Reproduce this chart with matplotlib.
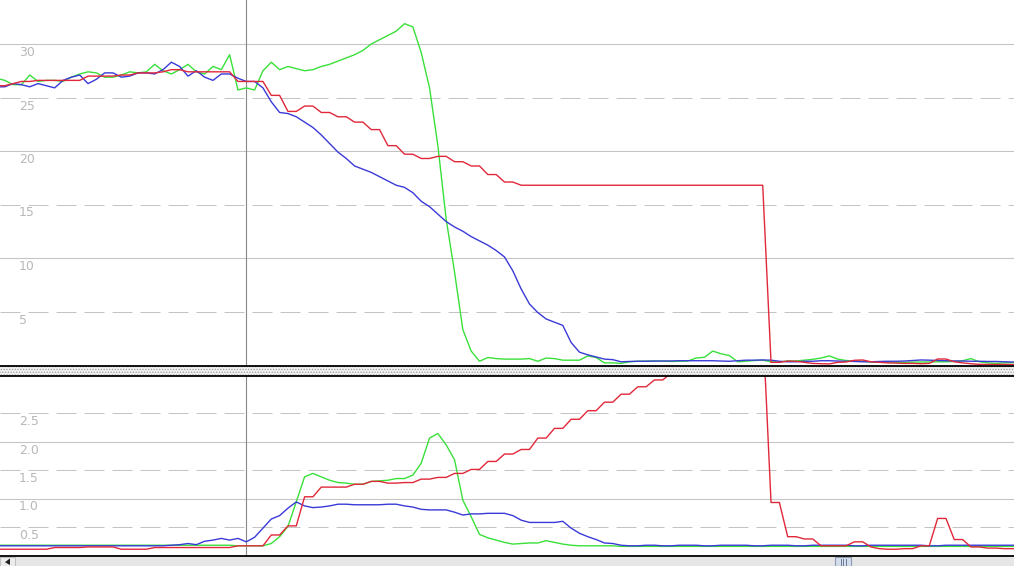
import numpy as np
import matplotlib
matplotlib.use("Agg")
import matplotlib.pyplot as plt
from matplotlib.patches import Rectangle, Polygon

# sample index of every point (one sample every ~8.3 px in the reference)
samples = np.arange(124)
marker_sample = 30

# top panel
red_top = [
    26.1, 26.1, 26.3, 26.5, 26.5, 26.6, 26.6, 26.6, 26.6, 26.6,
    26.6, 27.0, 27.0, 27.0, 27.0, 27.1, 27.1, 27.3, 27.3, 27.3,
    27.4, 27.6, 27.6, 27.4, 27.4, 27.4, 27.4, 27.4, 27.4, 26.5,
    26.5, 26.5, 26.5, 25.2, 25.2, 23.7, 23.7, 24.2, 24.2, 23.6,
    23.6, 23.2, 23.2, 22.7, 22.7, 22.0, 22.0, 20.5, 20.5, 19.7,
    19.7, 19.3, 19.3, 19.5, 19.5, 19.0, 19.0, 18.6, 18.6, 17.8,
    17.8, 17.1, 17.1, 16.8, 16.8, 16.8, 16.8, 16.8, 16.8, 16.8,
    16.8, 16.8, 16.8, 16.8, 16.8, 16.8, 16.8, 16.8, 16.8, 16.8,
    16.8, 16.8, 16.8, 16.8, 16.8, 16.8, 16.8, 16.8, 16.8, 16.8,
    16.8, 16.8, 16.8, 0.25, 0.25, 0.37, 0.35, 0.25, 0.15, 0.12,
    0.10, 0.25, 0.28, 0.44, 0.47, 0.30, 0.25, 0.20, 0.18, 0.15,
    0.15, 0.12, 0.15, 0.56, 0.56, 0.30, 0.20, 0.12, 0.06, 0.05,
    0.05, 0.05, 0.04, 0.04,
]
blue_top = [
    26.0, 26.0, 26.3, 26.2, 26.0, 26.3, 26.1, 25.9, 26.6, 26.9,
    27.1, 26.3, 26.7, 27.3, 27.3, 26.9, 27.0, 27.3, 27.3, 27.2,
    27.6, 28.3, 27.9, 27.0, 27.5, 26.9, 26.6, 27.2, 27.2, 26.8,
    26.5, 26.5, 25.9, 24.6, 23.6, 23.5, 23.2, 22.7, 22.2, 21.5,
    20.7, 19.9, 19.3, 18.6, 18.3, 18.0, 17.6, 17.2, 16.8, 16.6,
    16.1, 15.3, 14.8, 14.1, 13.4, 12.9, 12.5, 12.0, 11.6, 11.2,
    10.7, 10.1, 8.8, 7.1, 5.7, 4.9, 4.3, 4.0, 3.7, 2.1,
    1.2, 0.95, 0.75, 0.55, 0.50, 0.30, 0.33, 0.35, 0.35, 0.37,
    0.37, 0.38, 0.40, 0.40, 0.40, 0.40, 0.40, 0.37, 0.35, 0.40,
    0.45, 0.45, 0.47, 0.45, 0.35, 0.30, 0.30, 0.35, 0.35, 0.40,
    0.40, 0.37, 0.35, 0.33, 0.30, 0.30, 0.33, 0.35, 0.35, 0.37,
    0.42, 0.47, 0.45, 0.42, 0.40, 0.38, 0.37, 0.35, 0.35, 0.33,
    0.33, 0.30, 0.28, 0.28,
]
green_top = [
    26.8, 26.6, 26.2, 26.2, 27.1, 26.5, 26.6, 26.6, 26.5, 26.9,
    27.2, 27.4, 27.3, 26.9, 26.9, 27.1, 27.4, 27.3, 27.4, 28.1,
    27.5, 27.2, 27.6, 28.1, 27.4, 27.2, 27.9, 27.6, 29.0, 25.7,
    25.9, 25.7, 27.5, 28.3, 27.6, 27.9, 27.7, 27.5, 27.6, 27.9,
    28.1, 28.4, 28.7, 29.0, 29.4, 30.0, 30.4, 30.8, 31.2, 31.9,
    31.6, 29.2, 25.9, 20.5, 13.6, 8.7, 3.3, 1.3, 0.35, 0.70,
    0.60, 0.55, 0.55, 0.55, 0.60, 0.35, 0.65, 0.60, 0.45, 0.45,
    0.45, 0.85, 0.70, 0.20, 0.20, 0.15, 0.30, 0.35, 0.37, 0.37,
    0.37, 0.33, 0.35, 0.37, 0.65, 0.72, 1.30, 1.05, 0.88, 0.30,
    0.35, 0.42, 0.45, 0.30, 0.28, 0.38, 0.38, 0.45, 0.53, 0.65,
    0.85, 0.55, 0.42, 0.37, 0.35, 0.28, 0.27, 0.25, 0.25, 0.25,
    0.27, 0.28, 0.28, 0.30, 0.30, 0.33, 0.40, 0.60, 0.30, 0.20,
    0.15, 0.20, 0.22, 0.22,
]

# bottom panel
red_bot = [
    0.11, 0.11, 0.11, 0.11, 0.11, 0.11, 0.11, 0.14, 0.14, 0.14,
    0.14, 0.15, 0.15, 0.15, 0.15, 0.11, 0.11, 0.11, 0.11, 0.14,
    0.14, 0.14, 0.14, 0.14, 0.14, 0.14, 0.14, 0.14, 0.14, 0.17,
    0.17, 0.17, 0.17, 0.36, 0.36, 0.52, 0.52, 1.03, 1.03, 1.20,
    1.20, 1.20, 1.20, 1.25, 1.25, 1.30, 1.30, 1.27, 1.27, 1.28,
    1.28, 1.34, 1.34, 1.37, 1.37, 1.44, 1.44, 1.51, 1.51, 1.65,
    1.65, 1.78, 1.78, 1.86, 1.86, 2.06, 2.06, 2.23, 2.23, 2.39,
    2.39, 2.54, 2.54, 2.69, 2.69, 2.83, 2.83, 2.96, 2.96, 3.08,
    3.08, 3.20, 3.20, 3.35, 3.35, 3.50, 3.50, 3.70, 3.70, 3.90,
    3.90, 4.10, 4.10, 0.93, 0.93, 0.33, 0.33, 0.29, 0.29, 0.17,
    0.17, 0.17, 0.17, 0.24, 0.24, 0.15, 0.12, 0.11, 0.11, 0.12,
    0.12, 0.17, 0.17, 0.65, 0.65, 0.28, 0.28, 0.15, 0.15, 0.13,
    0.13, 0.12, 0.12, 0.12,
]
blue_bot = [
    0.17, 0.17, 0.17, 0.17, 0.17, 0.17, 0.17, 0.17, 0.17, 0.17,
    0.17, 0.17, 0.17, 0.17, 0.17, 0.17, 0.17, 0.17, 0.17, 0.17,
    0.17, 0.18, 0.19, 0.21, 0.19, 0.25, 0.27, 0.30, 0.27, 0.30,
    0.24, 0.32, 0.48, 0.64, 0.70, 0.83, 0.94, 0.87, 0.84, 0.85,
    0.87, 0.90, 0.90, 0.89, 0.89, 0.89, 0.89, 0.90, 0.90, 0.87,
    0.85, 0.81, 0.80, 0.80, 0.80, 0.76, 0.71, 0.73, 0.73, 0.74,
    0.74, 0.74, 0.70, 0.62, 0.58, 0.58, 0.58, 0.58, 0.60, 0.48,
    0.39, 0.33, 0.28, 0.22, 0.21, 0.18, 0.17, 0.17, 0.18, 0.18,
    0.17, 0.17, 0.18, 0.18, 0.18, 0.17, 0.17, 0.18, 0.18, 0.18,
    0.18, 0.17, 0.17, 0.18, 0.18, 0.18, 0.17, 0.17, 0.18, 0.18,
    0.18, 0.18, 0.18, 0.17, 0.17, 0.18, 0.18, 0.18, 0.18, 0.18,
    0.18, 0.18, 0.17, 0.17, 0.18, 0.18, 0.18, 0.18, 0.18, 0.18,
    0.18, 0.18, 0.18, 0.18,
]
green_bot = [
    0.18, 0.18, 0.18, 0.18, 0.18, 0.18, 0.18, 0.18, 0.18, 0.18,
    0.18, 0.18, 0.18, 0.18, 0.18, 0.18, 0.18, 0.18, 0.18, 0.18,
    0.18, 0.18, 0.18, 0.18, 0.18, 0.18, 0.18, 0.18, 0.18, 0.17,
    0.17, 0.17, 0.17, 0.21, 0.33, 0.51, 0.94, 1.38, 1.44, 1.38,
    1.32, 1.28, 1.27, 1.25, 1.25, 1.30, 1.31, 1.32, 1.35, 1.35,
    1.41, 1.62, 2.06, 2.14, 1.94, 1.68, 0.97, 0.68, 0.37, 0.31,
    0.27, 0.23, 0.20, 0.21, 0.22, 0.22, 0.26, 0.23, 0.20, 0.18,
    0.17, 0.17, 0.17, 0.17, 0.17, 0.16, 0.16, 0.16, 0.16, 0.16,
    0.16, 0.16, 0.16, 0.16, 0.16, 0.16, 0.16, 0.16, 0.16, 0.16,
    0.16, 0.16, 0.16, 0.16, 0.16, 0.16, 0.16, 0.16, 0.16, 0.16,
    0.16, 0.16, 0.16, 0.16, 0.16, 0.16, 0.16, 0.16, 0.16, 0.16,
    0.16, 0.16, 0.16, 0.16, 0.16, 0.16, 0.16, 0.16, 0.16, 0.16,
    0.16, 0.16, 0.16, 0.16,
]

top_solid = [10, 20, 30]
top_dashed = [5, 15, 25]
top_labels = ["5", "10", "15", "20", "25", "30"]
bot_solid = [1.0, 2.0]
bot_dashed = [0.5, 1.5, 2.5]
bot_labels = ["0.5", "1.0", "1.5", "2.0", "2.5"]

RED = "#e0283a"
GREEN = "#3ae03a"
BLUE = "#3a3ad8"
GRID = "#c4c4c4"
LABEL = "#b8b8b8"

W, H = 1014, 566


def px_rect(x0, y0, x1, y1):
    # pixel box (top-left origin) -> figure fraction rect
    return [x0 / W, (H - y1) / H, (x1 - x0) / W, (y1 - y0) / H]


def style_panel(ax, solid, dashed, labels, fmt_values):
    ax.set_xticks([])
    ax.set_yticks([])
    for s in ax.spines.values():
        s.set_visible(False)
    for v in solid:
        ax.axhline(v, color=GRID, lw=0.75, zorder=1)
    for v in dashed:
        ax.axhline(v, color=GRID, lw=0.72, ls=(0, (20, 8)), zorder=1)
    for v, lab in zip(fmt_values, labels):
        ax.annotate(lab, xy=(0, v), xycoords=ax.get_yaxis_transform(),
                    xytext=(19, -2), textcoords="offset pixels",
                    ha="left", va="top", fontsize=9, color=LABEL)
    ax.axvline(marker_sample, color="#888888", lw=0.8, zorder=2)


fig = plt.figure(figsize=(W / 100, H / 100), dpi=100)

ax_top = fig.add_axes(px_rect(0, 0, W, 365))
ax_top.set_xlim(0.43, 122.17)
ax_top.set_ylim(0, 365 / 10.7)
style_panel(ax_top, top_solid, top_dashed, top_labels, [5, 10, 15, 20, 25, 30])
ax_top.plot(samples, green_top, color=GREEN, lw=1.0, zorder=3)
ax_top.plot(samples, blue_top, color=BLUE, lw=1.0, zorder=4)
ax_top.plot(samples, red_top, color=RED, lw=1.0, zorder=5)

ax_bot = fig.add_axes(px_rect(0, 376, W, 555.5))
ax_bot.set_xlim(0.43, 122.17)
ax_bot.set_ylim(0, 179.5 / 57)
style_panel(ax_bot, bot_solid, bot_dashed, bot_labels, [0.5, 1.0, 1.5, 2.0, 2.5])
ax_bot.plot(samples, green_bot, color=GREEN, lw=1.0, zorder=3)
ax_bot.plot(samples, blue_bot, color=BLUE, lw=1.0, zorder=4)
ax_bot.plot(samples, red_bot, color=RED, lw=1.0, zorder=5)

# splitter between the two panels
ax_split = fig.add_axes(px_rect(0, 365, W, 376))
ax_split.set_axis_off()
plt.rcParams["hatch.color"] = "#9a9a9a"
plt.rcParams["hatch.linewidth"] = 0.6
ax_split.add_patch(Rectangle((0, 0), 1, 1, transform=ax_split.transAxes,
                             facecolor="#f2f2f2", edgecolor="#9a9a9a",
                             hatch="......", lw=0))

# black separator lines
for y in (365.5, 375.5, 555.5):
    fig.add_artist(plt.Line2D([0, 1], [(H - y) / H] * 2, color="black",
                              lw=1.3, transform=fig.transFigure))

# horizontal scrollbar
ax_scroll = fig.add_axes(px_rect(0, 556.5, W, 566))
ax_scroll.set_axis_off()
ax_scroll.set_xlim(0, W)
ax_scroll.set_ylim(10, 0)
ax_scroll.add_patch(Rectangle((0, 0), W, 10, facecolor="#e6e6e6", lw=0))
ax_scroll.add_patch(Rectangle((0, 0), 15, 10, facecolor="#ececec",
                              edgecolor="#b8b8b8", lw=0.6))
ax_scroll.add_patch(Polygon([[5, 6], [10, 2], [10, 9]], closed=True,
                            facecolor="#202020", lw=0))
ax_scroll.add_patch(Rectangle((835, 0.5), 16, 10, facecolor="#d4ddea",
                              edgecolor="#8c9ab4", lw=0.8))
for gx in (840.5, 843, 845.5):
    ax_scroll.plot([gx, gx], [3, 9.5], color="#5a6a88", lw=0.6)

fig.savefig("out.png", dpi=100)
